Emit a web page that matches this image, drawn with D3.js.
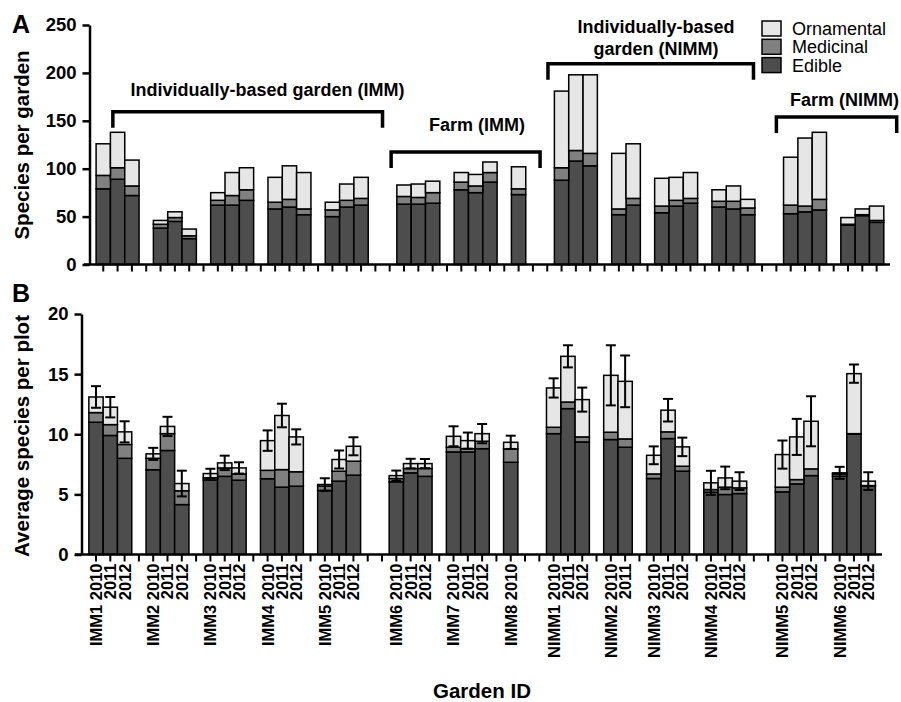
<!DOCTYPE html>
<html>
<head>
<meta charset="utf-8">
<script src="https://cdn.jsdelivr.net/npm/d3@7"></script>
<style>
  body { margin: 0; background: #fff; }
  text { font-family: "Liberation Sans", Arial, sans-serif; }
</style>
</head>
<body>
<script>
// gardens in order along the x axis, with the years sampled for each
var gardens = ["IMM1","IMM2","IMM3","IMM4","IMM5","IMM6","IMM7","IMM8",
               "NIMM1","NIMM2","NIMM3","NIMM4","NIMM5","NIMM6"];
var gardenYears = [[2010,2011,2012],[2010,2011,2012],[2010,2011,2012],[2010,2011,2012],
                   [2010,2011,2012],[2010,2011,2012],[2010,2011,2012],[2010],
                   [2010,2011,2012],[2010,2011],[2010,2011,2012],[2010,2011,2012],
                   [2010,2011,2012],[2010,2011,2012]];
// garden types (brackets in panel A) and how many gardens each holds
var sections = ["Individually-based garden (IMM)", "Farm (IMM)",
                "Individually-based|garden (NIMM)", "Farm (NIMM)"];
var sectionGardens = [5, 3, 4, 2];

var keys = ["edible", "medicinal", "ornamental"];
var keyNames = ["Edible", "Medicinal", "Ornamental"];
var colors = {edible: "#4d4d4d", medicinal: "#808080", ornamental: "#e6e6e6"};

// Panel A: species per garden (one value per bar, in bar order)
var edibleA     = [79,89,72, 38,45,27, 62,62,67, 58,60,52, 50,60,62, 63,63,64, 78,75,86, 73,
                   88,108,103, 52,62, 54,61,64, 60,58,52, 53,55,57, 41,51,44];
var medicinalA  = [14,12,10, 4,4,3, 5,10,11, 7,8,6, 7,7,7, 8,7,11, 8,7,10, 6,
                   13,11,13, 6,7, 7,6,5, 6,8,7, 9,6,11, 1,1,2];
var ornamentalA = [33,37,27, 4,6,7, 8,24,23, 26,35,38, 8,17,22, 12,14,12, 10,12,11, 23,
                   80,79,82, 58,57, 29,24,27, 12,16,9, 50,71,70, 7,6,15];

// Panel B: average species per plot, with error (half-width) of the total
var edibleB     = [11.0,9.9,8.0, 7.05,8.65,4.15, 6.2,6.5,6.18, 6.3,5.6,5.68, 5.32,6.1,6.6,
                   6.04,6.79,6.5, 8.53,8.53,8.8, 7.67,
                   10.05,12.13,9.36, 9.56,8.92, 6.32,9.64,6.93, 5.18,4.99,5.07,
                   5.21,5.87,6.56, 6.51,10.0,5.68];
var medicinalB  = [0.8,0.9,1.15, 0.95,1.4,1.15, 0.18,0.7,0.52, 0.7,1.46,1.2, 0.36,0.83,1.16,
                   0.28,0.36,0.65, 0.39,0.27,0.62, 1.11,
                   0.53,0.55,0.42, 0.61,0.69, 0.38,0.56,0.41, 0.22,0.61,0.47,
                   0.39,0.36,0.56, 0.19,0.05,0.05];
var ornamentalB = [1.3,1.45,1.05, 0.37,0.6,0.6, 0.35,0.42,0.5, 2.47,4.5,2.9, 0.14,0.97,1.24,
                   0.24,0.41,0.41, 0.91,0.67,0.63, 0.55,
                   3.27,3.8,3.1, 4.73,4.79, 1.55,1.8,1.61, 0.56,0.77,0.56,
                   2.71,3.55,3.96, 0.09,4.99,0.37];
var errB        = [0.9,0.85,0.88, 0.5,0.8,1.07, 0.4,0.6,0.47, 0.85,0.98,0.63, 0.52,0.75,0.75,
                   0.42,0.4,0.38, 0.83,0.67,0.8, 0.55,
                   0.8,0.92,1.0, 2.5,2.15, 0.74,0.94,0.77, 1.0,0.94,0.74,
                   1.17,1.5,2.08, 0.5,0.76,0.74];

var ticksA = [0, 50, 100, 150, 200, 250];
var ticksB = [0, 5, 10, 15, 20];

var width = 901, height = 702;

var svg = d3.select("body").append("svg")
  .attr("width", width)
  .attr("height", height);

// build the slots of the categorical axis: one per bar, one empty slot between
// gardens and two between garden types
var slots = [], bars = [];
var g = 0, gapN = 0, b = 0;
sectionGardens.forEach(function(n, s) {
  if (s > 0) slots.push("gap" + (gapN++));
  for (var k = 0; k < n; k++, g++) {
    if (k > 0 || s > 0) slots.push("gap" + (gapN++));
    gardenYears[g].forEach(function(yr, j) {
      var id = gardens[g] + " " + yr;
      slots.push(id);
      bars.push({id: id, garden: gardens[g], year: yr, first: j == 0,
                 edible: edibleA[b], medicinal: medicinalA[b], ornamental: ornamentalA[b],
                 edibleB: edibleB[b], medicinalB: medicinalB[b], ornamentalB: ornamentalB[b],
                 err: errB[b]});
      b++;
    });
  }
});
var barById = {};
bars.forEach(function(d) { barById[d.id] = d; });

var font = '"Liberation Sans", Arial, sans-serif';

// ---------- Panel A ----------
var xA = d3.scaleBand().domain(slots).range([96.1, 883.8]).padding(0);
var yA = d3.scaleLinear().domain([0, 250]).range([264.5, 25]);

var stackA = d3.stack().keys(keys)(bars);

var gA = svg.append("g");
gA.selectAll("g.layer")
  .data(stackA)
  .enter().append("g")
  .attr("class", "layer")
  .attr("fill", function(d) { return colors[d.key]; })
  .selectAll("rect")
  .data(function(d) { return d; })
  .enter().append("rect")
  .attr("x", function(d) { return xA(d.data.id); })
  .attr("width", xA.bandwidth())
  .attr("y", function(d) { return yA(d[1]); })
  .attr("height", function(d) { return yA(d[0]) - yA(d[1]); })
  .attr("stroke", "#000")
  .attr("stroke-width", 1.5);

// y axis A
var axA = gA.append("g")
  .attr("transform", "translate(89.5,0)")
  .call(d3.axisLeft(yA).tickValues(ticksA).tickSize(7).tickSizeOuter(0).tickPadding(6));
axA.select(".domain").attr("stroke-width", 2.5);
axA.selectAll(".tick line").attr("stroke-width", 2.5);
axA.selectAll(".tick text").style("font-family", font).style("font-size", "18.5px")
  .style("font-weight", "bold").attr("fill", "#000");

// x axis A (ticks only)
var axXA = gA.append("g")
  .attr("transform", "translate(0,264.5)")
  .call(d3.axisBottom(xA).tickSize(7).tickFormat(""));
axXA.select(".domain").remove();
axXA.selectAll(".tick line").attr("stroke-width", 2);
gA.append("line").attr("x1", 84).attr("x2", 890).attr("y1", 264.5).attr("y2", 264.5)
  .attr("stroke", "#000").attr("stroke-width", 2.5);

// brackets marking garden type (positions in slot units / data units)
var stepA = xA.step(), x0A = xA(slots[0]) + stepA / 2;
var bracketSpan = [[0.67, 19.5], [20.1, 30.5], [31.05, 45.4], [47, 55.4]];
var bracketLevel = [159.5, 117.5, 209.5, 154];
var labelSlot = [11.47, 26.1, 38.6, 51.76];
var labelGap = [16, 21, 9, 11];
sections.forEach(function(name, i) {
  var x1 = x0A + bracketSpan[i][0] * stepA, x2 = x0A + bracketSpan[i][1] * stepA;
  var y = yA(bracketLevel[i]);
  gA.append("path")
    .attr("d", "M" + x1 + "," + (y + 16) + "V" + y + "H" + x2 + "V" + (y + 16))
    .attr("fill", "none").attr("stroke", "#000").attr("stroke-width", 3.5);
  var lines = name.split("|");
  var t = gA.append("text")
    .attr("x", x0A + labelSlot[i] * stepA)
    .attr("y", y - labelGap[i] - (lines.length - 1) * 21.5)
    .attr("text-anchor", "middle")
    .style("font-size", "18px").style("font-weight", "bold");
  lines.forEach(function(l, j) {
    t.append("tspan").attr("x", x0A + labelSlot[i] * stepA).attr("dy", j ? 21.5 : 0).text(l);
  });
});

// legend
var legend = gA.append("g").attr("transform", "translate(762,21)");
keys.slice().reverse().forEach(function(k, i) {
  legend.append("rect").attr("x", 0).attr("y", i * 18.3).attr("width", 19).attr("height", 15)
    .attr("fill", colors[k]).attr("stroke", "#000").attr("stroke-width", 1.5);
  legend.append("text").attr("x", 30).attr("y", i * 18.3 + 14)
    .style("font-size", "18px").text(keyNames[keys.indexOf(k)]);
});

svg.append("text").attr("x", 12).attr("y", 33).style("font-size", "25px")
  .style("font-weight", "bold").text("A");
svg.append("text").attr("transform", "translate(29,145) rotate(-90)")
  .attr("text-anchor", "middle").style("font-size", "20.5px").style("font-weight", "bold")
  .text("Species per garden");

// ---------- Panel B ----------
var xB = d3.scaleBand().domain(slots).range([88.85, 875.4]).padding(0);
var yB = d3.scaleLinear().domain([0, 20]).range([554.5, 314]);

var stackB = d3.stack().keys(["edibleB", "medicinalB", "ornamentalB"])(bars);

var gB = svg.append("g");
gB.selectAll("g.layer")
  .data(stackB)
  .enter().append("g")
  .attr("class", "layer")
  .attr("fill", function(d, i) { return colors[keys[i]]; })
  .selectAll("rect")
  .data(function(d) { return d; })
  .enter().append("rect")
  .attr("x", function(d) { return xB(d.data.id); })
  .attr("width", xB.bandwidth())
  .attr("y", function(d) { return yB(d[1]); })
  .attr("height", function(d) { return yB(d[0]) - yB(d[1]); })
  .attr("stroke", "#000")
  .attr("stroke-width", 1.5);

// error bars
var capW = 10;
var eb = gB.selectAll("g.err")
  .data(bars)
  .enter().append("g")
  .attr("class", "err")
  .attr("stroke", "#000")
  .attr("stroke-width", 2);
function totalB(d) { return d.edibleB + d.medicinalB + d.ornamentalB; }
function cx(d) { return xB(d.id) + xB.bandwidth() / 2; }
eb.append("line")
  .attr("x1", cx).attr("x2", cx)
  .attr("y1", function(d) { return yB(totalB(d) + d.err); })
  .attr("y2", function(d) { return yB(totalB(d) - d.err); });
eb.append("line")
  .attr("x1", function(d) { return cx(d) - capW / 2; })
  .attr("x2", function(d) { return cx(d) + capW / 2; })
  .attr("y1", function(d) { return yB(totalB(d) + d.err); })
  .attr("y2", function(d) { return yB(totalB(d) + d.err); });
eb.append("line")
  .attr("x1", function(d) { return cx(d) - capW / 2; })
  .attr("x2", function(d) { return cx(d) + capW / 2; })
  .attr("y1", function(d) { return yB(totalB(d) - d.err); })
  .attr("y2", function(d) { return yB(totalB(d) - d.err); });

// y axis B
var axB = gB.append("g")
  .attr("transform", "translate(81.5,0)")
  .call(d3.axisLeft(yB).tickValues(ticksB).tickSize(7).tickSizeOuter(0).tickPadding(6));
axB.select(".domain").attr("stroke-width", 2.5);
axB.selectAll(".tick line").attr("stroke-width", 2.5);
axB.selectAll(".tick text").style("font-family", font).style("font-size", "18.5px")
  .style("font-weight", "bold").attr("fill", "#000");

// x axis B with year labels
var axXB = gB.append("g")
  .attr("transform", "translate(0,554.5)")
  .call(d3.axisBottom(xB).tickSize(7).tickFormat(function(d) {
    var bar = barById[d];
    if (!bar) return "";
    return bar.first ? bar.garden + " " + bar.year : String(bar.year);
  }));
axXB.select(".domain").remove();
axXB.selectAll(".tick line").attr("stroke-width", 2);
axXB.selectAll(".tick text")
  .style("font-family", font).style("font-size", "16.5px").style("font-weight", "bold")
  .attr("fill", "#000")
  .attr("text-anchor", "end")
  .attr("transform", "rotate(-90)")
  .attr("x", -9).attr("y", 0).attr("dy", "0.36em");
gB.append("line").attr("x1", 75).attr("x2", 882).attr("y1", 554.5).attr("y2", 554.5)
  .attr("stroke", "#000").attr("stroke-width", 2.5);

svg.append("text").attr("x", 12).attr("y", 302).style("font-size", "25px")
  .style("font-weight", "bold").text("B");
svg.append("text").attr("transform", "translate(29,436) rotate(-90)")
  .attr("text-anchor", "middle").style("font-size", "20.5px").style("font-weight", "bold")
  .text("Average species per plot");

svg.append("text").attr("x", 482).attr("y", 698).attr("text-anchor", "middle")
  .style("font-size", "20.5px").style("font-weight", "bold").text("Garden ID");
</script>
</body>
</html>
